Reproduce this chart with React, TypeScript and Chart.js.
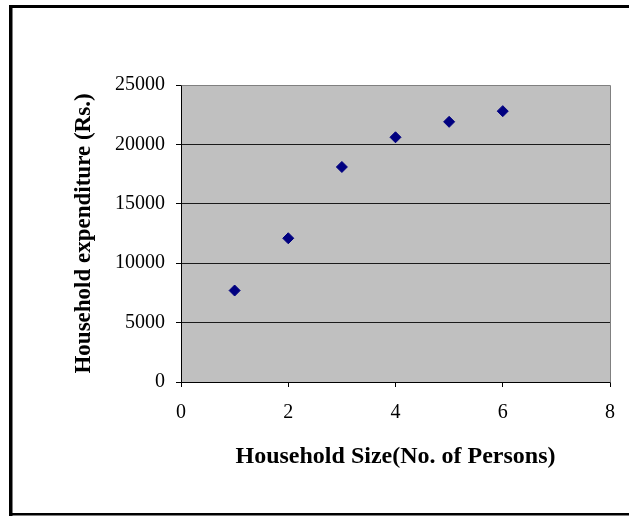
import React, { useEffect, useRef } from "react";
import { Chart, registerables } from "chart.js";

Chart.register(...registerables);

const householdSize = [1, 2, 3, 4, 5, 6];
const expenditure = [7700, 12100, 18100, 20600, 21900, 22800];
const xTicks = [0, 2, 4, 6, 8];
const yTicks = [0, 5000, 10000, 15000, 20000, 25000];

const xTitle = "Household Size(No. of Persons)";
const yTitle = "Household expenditure (Rs.)";

const SERIF = "'Liberation Serif', 'Times New Roman', serif";

const framePlugin = {
  id: "framePlugin",
  beforeDraw(chart: any) {
    const { ctx, chartArea } = chart;
    ctx.save();
    ctx.fillStyle = "#ffffff";
    ctx.fillRect(0, 0, chart.width, chart.height);
    ctx.fillStyle = "#C0C0C0";
    ctx.fillRect(chartArea.left, chartArea.top, chartArea.right - chartArea.left, chartArea.bottom - chartArea.top);
    ctx.restore();
  },
  beforeDatasetsDraw(chart: any) {
    const { ctx, chartArea } = chart;
    ctx.save();
    ctx.strokeStyle = "#808080";
    ctx.lineWidth = 1;
    ctx.beginPath();
    ctx.moveTo(Math.round(chartArea.left) + 0.5, Math.round(chartArea.top) + 0.5);
    ctx.lineTo(Math.round(chartArea.right) + 0.5, Math.round(chartArea.top) + 0.5);
    ctx.lineTo(Math.round(chartArea.right) + 0.5, Math.round(chartArea.bottom) + 0.5);
    ctx.stroke();
    ctx.restore();
  },
  afterDraw(chart: any) {
    const { ctx } = chart;
    ctx.save();
    ctx.fillStyle = "#000000";
    ctx.fillRect(9, 5, 3.5, 511);
    ctx.fillRect(9, 5, chart.width - 9, 3);
    ctx.fillRect(9, 513, chart.width - 9, 2.5);
    ctx.restore();
  },
};

export default function App() {
  const canvasRef = useRef<HTMLCanvasElement | null>(null);

  useEffect(() => {
    if (!canvasRef.current) return;
    const chart = new Chart(canvasRef.current, {
      type: "scatter",
      data: {
        datasets: [
          {
            label: "Household expenditure",
            data: householdSize.map((x, i) => ({ x, y: expenditure[i] })),
            pointStyle: "rectRot",
            pointRadius: 5.5,
            pointHoverRadius: 5.5,
            backgroundColor: "#000080",
            borderColor: "#000080",
            borderWidth: 1,
          },
        ],
      },
      options: {
        animation: false,
        responsive: false,
        maintainAspectRatio: false,
        events: [],
        layout: { padding: { left: 14, top: 85, right: 16, bottom: 14 } },
        plugins: {
          legend: { display: false },
          tooltip: { enabled: false },
          title: { display: false },
        },
        scales: {
          x: {
            type: "linear",
            min: 0,
            max: 8,
            afterFit: (scale: any) => {
              scale.height = 120;
            },
            afterBuildTicks: (scale: any) => {
              scale.ticks = xTicks.map((v) => ({ value: v }));
            },
            grid: {
              drawOnChartArea: false,
              drawTicks: true,
              tickLength: 5,
              tickColor: "#000000",
              color: "#000000",
            },
            border: { display: true, color: "#000000", width: 1 },
            ticks: {
              color: "#000000",
              padding: 14,
              font: { family: SERIF, size: 20, lineHeight: 1.2 },
              maxRotation: 0,
            },
            title: {
              display: true,
              text: xTitle,
              color: "#000000",
              font: { family: SERIF, size: 24, weight: "bold", lineHeight: 1.2 },
              padding: { top: 0, bottom: 31 },
            },
          },
          y: {
            type: "linear",
            min: 0,
            max: 25000,
            afterFit: (scale: any) => {
              scale.width = 167;
            },
            afterBuildTicks: (scale: any) => {
              scale.ticks = yTicks.map((v) => ({ value: v }));
            },
            grid: {
              drawOnChartArea: true,
              drawTicks: true,
              tickLength: 5,
              tickColor: "#000000",
              color: (ctx: any) => (ctx.tick && ctx.tick.value === 25000 ? "rgba(0,0,0,0)" : "#1a1a1a"),
              lineWidth: 1,
            },
            border: { display: true, color: "#000000", width: 1 },
            ticks: {
              color: "#000000",
              padding: 11,
              font: { family: SERIF, size: 20, lineHeight: 1.2 },
              callback: (v: any) => String(v),
            },
            title: {
              display: true,
              text: yTitle,
              color: "#000000",
              font: { family: SERIF, size: 23, weight: "bold", lineHeight: 1.2 },
              padding: { top: 56, bottom: 0 },
            },
          },
        },
      },
      plugins: [framePlugin],
    });
    return () => chart.destroy();
  }, []);

  return (
    <div style={{ position: "fixed", left: 0, top: 0, width: 629, height: 516 }}>
      <canvas ref={canvasRef} width={629} height={516} style={{ width: 629, height: 516, display: "block" }} />
    </div>
  );
}
